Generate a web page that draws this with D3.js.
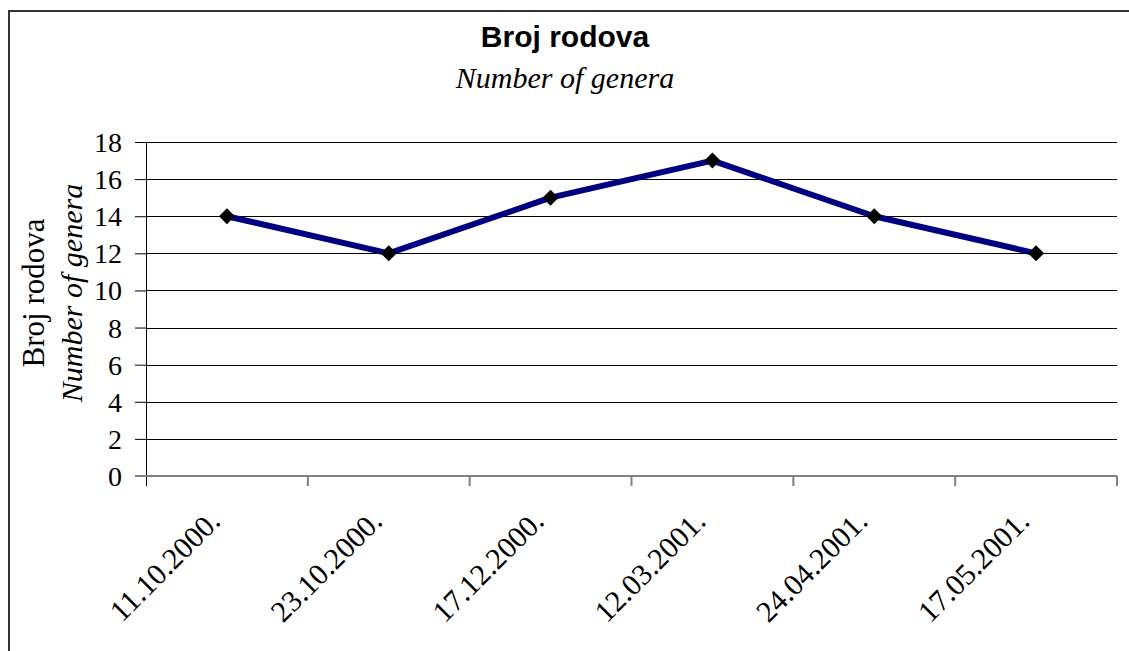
<!DOCTYPE html>
<html>
<head>
<meta charset="utf-8">
<script src="https://cdn.jsdelivr.net/npm/d3@7"></script>
<style>
  body { margin: 0; background: #fff; }
  svg { display: block; }
</style>
</head>
<body>
<div id="chart"></div>
<script>
const dates = ['11.10.2000.', '23.10.2000.', '17.12.2000.', '12.03.2001.', '24.04.2001.', '17.05.2001.'];
const genera = [14, 12, 15, 17, 14, 12];
const yTicks = [0, 2, 4, 6, 8, 10, 12, 14, 16, 18];

const serif = '"Liberation Serif", "Times New Roman", serif';

function drawChart(element) {
  const width = 1129;
  const height = 651;
  const plot = { left: 146, right: 1117, top: 142, bottom: 476 };

  const svg = d3.select(element).append('svg')
    .attr('width', width)
    .attr('height', height);

  // outer frame (only top and left visible in the crop)
  svg.append('path')
    .attr('d', `M9,${height} L9,11 L${width},11`)
    .attr('fill', 'none')
    .attr('stroke', '#333')
    .attr('stroke-width', 2);

  const x = d3.scaleBand()
    .domain(dates)
    .range([plot.left, plot.right]);

  const y = d3.scaleLinear()
    .domain([0, 18])
    .range([plot.bottom, plot.top]);

  // y axis ticks + labels
  const yAxis = d3.axisLeft(y)
    .tickValues(yTicks)
    .tickSize(11)
    .tickPadding(13);

  const gy = svg.append('g')
    .attr('transform', `translate(${plot.left},0)`)
    .call(yAxis);
  gy.select('.domain').remove();
  gy.selectAll('.tick line').attr('stroke', '#000');
  gy.selectAll('.tick text')
    .attr('font-family', serif)
    .attr('font-size', 28)
    .attr('dy', '0.34em')
    .attr('fill', '#000');

  // gridlines
  svg.append('g')
    .selectAll('line')
    .data(yTicks.filter(d => d > 0))
    .join('line')
    .attr('x1', plot.left)
    .attr('x2', plot.right)
    .attr('y1', d => Math.round(y(d)) + 0.5)
    .attr('y2', d => Math.round(y(d)) + 0.5)
    .attr('stroke', '#000')
    .attr('stroke-width', 1);

  // vertical axis line
  svg.append('line')
    .attr('x1', plot.left + 0.5)
    .attr('x2', plot.left + 0.5)
    .attr('y1', plot.top)
    .attr('y2', plot.bottom + 10)
    .attr('stroke', '#000');

  // x axis
  const gx = svg.append('g')
    .attr('transform', `translate(0,${plot.bottom})`);
  gx.append('line')
    .attr('x1', plot.left - 11)
    .attr('x2', plot.right)
    .attr('stroke', '#808080')
    .attr('stroke-width', 2);
  const bounds = dates.map(d => x(d)).concat([plot.right]);
  gx.selectAll('line.tk')
    .data(bounds.slice(1))
    .join('line')
    .attr('class', 'tk')
    .attr('x1', d => d)
    .attr('x2', d => d)
    .attr('y1', 0)
    .attr('y2', 10)
    .attr('stroke', '#808080')
    .attr('stroke-width', 2);

  gx.selectAll('text')
    .data(dates)
    .join('text')
    .attr('transform', d => `translate(${x(d) + x.bandwidth() / 2 - 5},${47}) rotate(-45)`)
    .attr('text-anchor', 'end')
    .attr('font-family', serif)
    .attr('font-size', 30)
    .attr('fill', '#000')
    .text(d => d);

  // series line
  const line = d3.line()
    .x((d, i) => x(dates[i]) + x.bandwidth() / 2)
    .y(d => y(d));

  svg.append('path')
    .datum(genera)
    .attr('d', line)
    .attr('fill', 'none')
    .attr('stroke', '#000080')
    .attr('stroke-width', 6)
    .attr('stroke-linejoin', 'round');

  svg.append('g')
    .selectAll('path')
    .data(genera)
    .join('path')
    .attr('d', d3.symbol(d3.symbolSquare, 128))
    .attr('transform', (d, i) => `translate(${x(dates[i]) + x.bandwidth() / 2},${y(d)}) rotate(45)`)
    .attr('fill', '#000');

  // titles
  svg.append('text')
    .attr('x', 565)
    .attr('y', 47)
    .attr('text-anchor', 'middle')
    .attr('font-family', '"Liberation Sans", Arial, sans-serif')
    .attr('font-weight', 'bold')
    .attr('font-size', 30)
    .text('Broj rodova');

  svg.append('text')
    .attr('x', 565)
    .attr('y', 88)
    .attr('text-anchor', 'middle')
    .attr('font-family', serif)
    .attr('font-style', 'italic')
    .attr('font-size', 30)
    .text('Number of genera');

  const yTitle = svg.append('text')
    .attr('transform', `translate(44,293) rotate(-90)`)
    .attr('text-anchor', 'middle')
    .attr('font-family', serif)
    .attr('font-size', 31);
  yTitle.append('tspan')
    .attr('x', 0)
    .text('Broj rodova');
  yTitle.append('tspan')
    .attr('x', 0)
    .attr('dy', 38)
    .attr('font-style', 'italic')
    .attr('font-size', 30)
    .text('Number of genera');
}

drawChart(document.getElementById('chart'));
</script>
</body>
</html>
